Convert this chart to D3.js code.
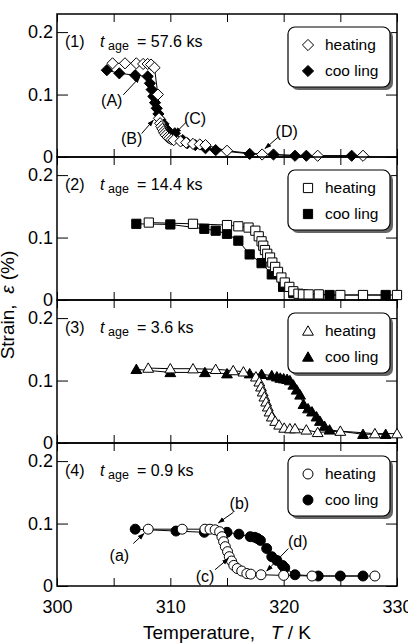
<!DOCTYPE html>
<html><head><meta charset="utf-8">
<script src="https://cdn.jsdelivr.net/npm/d3@7"></script>
<style>
html,body{margin:0;padding:0;background:#fff;}
svg{display:block;font-family:"Liberation Sans",Arial,Helvetica,sans-serif;}
</style></head><body>
<svg id="chart" width="408" height="644"></svg>
<script>
// ---------------- data ----------------
const panelLabels = ["(1)", "(2)", "(3)", "(4)"];
const ageLabels = ["= 57.6 ks", "= 14.4 ks", "= 3.6 ks", "= 0.9 ks"];
const markerShapes = ["diamond", "square", "triangle", "circle"];
const seriesNames = ["heating", "coo ling"];
const xTickValues = [300, 305, 310, 315, 320, 325, 330];
const xTickLabels = ["300", "", "310", "", "320", "", "330"];
const yTickValues = [0, 0.1, 0.2];
const yTickLabels = ["0", "0.1", "0.2"];

// [T (K), strain (%)]
const heating1 = [[304.9,0.150],[306.0,0.150],[307.0,0.150],[307.6,0.149],[308.0,0.149],[308.3,0.148],[308.6,0.143],[308.9,0.100],[309.0,0.062],[309.1,0.054],[309.2,0.049],[309.3,0.045],[309.4,0.041],[309.5,0.038],[309.6,0.035],[309.75,0.032],[309.9,0.030],[310.1,0.028],[310.3,0.027],[310.9,0.025],[311.4,0.023],[312.0,0.021],[312.6,0.020],[313.1,0.019],[315.0,0.010],[318.1,0.004],[323.0,0.002],[327.0,0.002]];
const cooling1 = [[304.4,0.139],[305.5,0.134],[306.9,0.131],[308.0,0.129],[308.2,0.118],[308.35,0.108],[308.5,0.097],[308.65,0.087],[308.8,0.078],[308.95,0.069],[309.1,0.060],[309.4,0.053],[309.7,0.044],[310.4,0.038],[311.1,0.027],[311.5,0.022],[312.2,0.019],[313.1,0.014],[314.0,0.011],[317.0,0.005],[319.1,0.004],[321.0,0.002],[322.0,0.002],[326.0,0.002]];
const heating2 = [[308.1,0.124],[312.0,0.122],[315.0,0.120],[316.0,0.118],[316.9,0.116],[317.5,0.111],[317.8,0.102],[318.05,0.094],[318.2,0.087],[318.35,0.080],[318.55,0.074],[318.8,0.068],[319.0,0.060],[319.25,0.053],[319.5,0.045],[319.8,0.036],[320.1,0.028],[320.5,0.021],[320.85,0.014],[321.3,0.010],[321.7,0.009],[322.2,0.009],[323.1,0.009],[325.0,0.008],[327.0,0.008],[330.0,0.008]];
const cooling2 = [[307.0,0.122],[310.0,0.121],[313.0,0.114],[314.0,0.111],[315.0,0.106],[316.0,0.095],[317.0,0.073],[318.05,0.059],[318.95,0.041],[319.95,0.021],[320.85,0.011],[324.05,0.008],[329.0,0.008]];
const heating3 = [[308.05,0.120],[310.0,0.119],[312.0,0.119],[314.0,0.118],[315.55,0.116],[316.45,0.114],[317.55,0.106],[317.85,0.098],[318.0,0.090],[318.15,0.082],[318.3,0.074],[318.45,0.066],[318.6,0.058],[318.75,0.050],[318.95,0.042],[319.25,0.035],[319.6,0.029],[320.05,0.024],[320.55,0.023],[321.0,0.023],[322.0,0.021],[323.0,0.017],[325.0,0.019],[328.05,0.015],[330.0,0.015]];
const cooling3 = [[307.0,0.118],[310.0,0.113],[313.05,0.113],[315.0,0.111],[317.0,0.111],[318.05,0.110],[318.95,0.108],[319.4,0.106],[319.7,0.104],[320.0,0.103],[320.3,0.102],[320.55,0.100],[320.85,0.093],[321.15,0.085],[321.45,0.077],[321.75,0.062],[322.15,0.055],[322.5,0.050],[322.9,0.042],[323.2,0.035],[323.6,0.027],[324.05,0.021],[327.0,0.014],[329.0,0.014]];
const heating4 = [[308.05,0.091],[311.05,0.091],[313.05,0.091],[313.5,0.091],[313.95,0.090],[314.35,0.087],[314.55,0.079],[314.7,0.071],[314.85,0.063],[315.05,0.055],[315.2,0.047],[315.4,0.040],[315.6,0.033],[315.9,0.028],[316.3,0.024],[316.75,0.020],[317.1,0.019],[318.0,0.018],[320.0,0.017],[322.5,0.016],[328.05,0.016]];
const cooling4 = [[306.9,0.091],[310.5,0.088],[313.0,0.086],[315.0,0.086],[316.05,0.083],[317.05,0.079],[317.45,0.078],[317.7,0.076],[317.95,0.073],[318.5,0.060],[318.95,0.047],[319.4,0.041],[319.9,0.033],[320.1,0.029],[321.0,0.018],[323.05,0.016],[325.0,0.016],[327.0,0.016]];

// annotation label position, arrow tail, arrow tip (data units)
const annotations1 = [
  {label:"(A)", text:[304.83,0.090], tail:[305.85,0.0995], tip:[307.32,0.128]},
  {label:"(B)", text:[306.59,0.0295], tail:[307.47,0.0376], tip:[308.5,0.059]},
  {label:"(C)", text:[312.18,0.0618], tail:[311.44,0.0565], tip:[310.41,0.0376]},
  {label:"(D)", text:[320.27,0.0403], tail:[319.53,0.032], tip:[318.35,0.0134]}
];
const annotations4 = [
  {label:"(a)", text:[305.5,0.049], tail:[306.73,0.068], tip:[307.68,0.084]},
  {label:"(b)", text:[316.09,0.132], tail:[315.56,0.118], tip:[314.24,0.101]},
  {label:"(c)", text:[313.06,0.016], tail:[313.94,0.026], tip:[315.12,0.044]},
  {label:"(d)", text:[321.24,0.071], tail:[320.41,0.060], tip:[318.5,0.024]}
];

const heatingSets = [heating1, heating2, heating3, heating4];
const coolingSets = [cooling1, cooling2, cooling3, cooling4];
const annotationSets = [annotations1, [], [], annotations4];

// ---------------- layout ----------------
const plotLeft = 57, plotRight = 397, firstTop = 14, panelH = 143;
const svg = d3.select("#chart");
const x = d3.scaleLinear().domain([300, 330]).range([plotLeft, plotRight]);

svg.append("defs").append("marker")
  .attr("id", "arrow").attr("viewBox", "0 0 10 10").attr("refX", 9).attr("refY", 5)
  .attr("markerWidth", 7).attr("markerHeight", 7).attr("markerUnits", "userSpaceOnUse")
  .attr("orient", "auto")
  .append("path").attr("d", "M0,1.5 L10,5 L0,8.5 Z").attr("fill", "#000");

function shapePath(shape) {
  if (shape === "diamond") { const r = 5.6; return `M0,${-r}L${r},0L0,${r}L${-r},0Z`; }
  if (shape === "square") { const h = 4.6; return `M${-h},${-h}H${h}V${h}H${-h}Z`; }
  if (shape === "triangle") { const w = 5.4; return `M0,-5.2L${w},4.2L${-w},4.2Z`; }
  return d3.symbol(d3.symbolCircle, 78)();
}

function drawMarkers(g, data, shape, fill, xs, ys) {
  g.selectAll(null).data(data).enter().append("path")
    .attr("d", shapePath(shape))
    .attr("transform", d => `translate(${xs(d[0])},${ys(d[1])})`)
    .attr("fill", fill).attr("stroke", "#000").attr("stroke-width", 1);
}

for (let i = 0; i < 4; i++) {
  const top = firstTop + i * panelH;
  const bottom = top + panelH;
  const y = d3.scaleLinear().domain([0, 0.229]).range([bottom, top]);
  const g = svg.append("g");

  // axes (inward ticks)
  const bAxis = g.append("g").attr("transform", `translate(0,${bottom})`)
    .call(d3.axisBottom(x).tickValues(xTickValues).tickSize(-8).tickPadding(14)
      .tickFormat((d, k) => i === 3 ? xTickLabels[k] : ""));
  const tAxis = g.append("g").attr("transform", `translate(0,${top})`)
    .call(d3.axisTop(x).tickValues(xTickValues).tickSize(-8).tickFormat(() => ""));
  const lAxis = g.append("g").attr("transform", `translate(${plotLeft},0)`)
    .call(d3.axisLeft(y).tickValues(yTickValues).tickSize(-11).tickPadding(4)
      .tickFormat((d, k) => yTickLabels[k]));
  const rAxis = g.append("g").attr("transform", `translate(${plotRight},0)`)
    .call(d3.axisRight(y).tickValues(yTickValues).tickSize(-11).tickFormat(() => ""));
  [bAxis, tAxis, lAxis, rAxis].forEach(a => {
    a.select(".domain").remove();
    a.selectAll("line").attr("stroke", "#000").attr("stroke-width", 1);
    a.selectAll("text").attr("font-size", 18).attr("fill", "#000")
      .attr("font-family", "'Liberation Sans', Arial, sans-serif");
  });

  // frame
  g.append("rect").attr("x", plotLeft).attr("y", top)
    .attr("width", plotRight - plotLeft).attr("height", panelH)
    .attr("fill", "none").attr("stroke", "#000").attr("stroke-width", 1.5);

  // legend
  const lg = g.append("g").attr("transform", `translate(288,${top + 13})`);
  lg.append("rect").attr("x", 3).attr("y", 3).attr("width", 102).attr("height", 60)
    .attr("rx", 7).attr("fill", "#666");
  lg.append("rect").attr("width", 102).attr("height", 60).attr("rx", 7)
    .attr("fill", "#fff").attr("stroke", "#000").attr("stroke-width", 1.2);
  seriesNames.forEach((name, k) => {
    const yy = k === 0 ? 18 : 44;
    lg.append("path").attr("d", shapePath(markerShapes[i]))
      .attr("transform", `translate(20,${yy})`)
      .attr("fill", k === 0 ? "#fff" : "#000").attr("stroke", "#000").attr("stroke-width", 1);
    lg.append("text").attr("x", 37).attr("y", yy).attr("dy", "0.35em")
      .attr("font-size", 15.5).text(name);
  });

  // panel label
  g.append("text").attr("x", 65).attr("y", top + 33).attr("font-size", 16).text(panelLabels[i]);
  g.append("text").attr("x", 100).attr("y", top + 33).attr("font-size", 16)
    .attr("font-style", "italic").text("t");
  g.append("text").attr("x", 108).attr("y", top + 36).attr("font-size", 12.5).text("age");
  g.append("text").attr("x", 137).attr("y", top + 33).attr("font-size", 16).text(ageLabels[i]);

  // series
  const line = d3.line().x(d => x(d[0])).y(d => y(d[1]));
  g.append("path").datum(coolingSets[i]).attr("d", line)
    .attr("fill", "none").attr("stroke", "#000").attr("stroke-width", 1);
  g.append("path").datum(heatingSets[i]).attr("d", line)
    .attr("fill", "none").attr("stroke", "#000").attr("stroke-width", 1);
  drawMarkers(g, coolingSets[i], markerShapes[i], "#000", x, y);
  drawMarkers(g, heatingSets[i], markerShapes[i], "#fff", x, y);

  // annotations
  annotationSets[i].forEach(a => {
    g.append("line").attr("x1", x(a.tail[0])).attr("y1", y(a.tail[1]))
      .attr("x2", x(a.tip[0])).attr("y2", y(a.tip[1]))
      .attr("stroke", "#000").attr("stroke-width", 1).attr("marker-end", "url(#arrow)");
    g.append("text").attr("x", x(a.text[0])).attr("y", y(a.text[1])).attr("dy", "0.35em")
      .attr("text-anchor", "middle").attr("font-size", 16).text(a.label);
  });
}

// axis titles
const xt = svg.append("text").attr("x", (plotLeft + plotRight) / 2).attr("y", 639)
  .attr("text-anchor", "middle").attr("font-size", 19).attr("xml:space", "preserve");
xt.append("tspan").text("Temperature,   ");
xt.append("tspan").attr("font-style", "italic").text("T");
xt.append("tspan").text(" / K");

const yt = svg.append("text").attr("transform", "translate(13.5,305) rotate(-90)")
  .attr("text-anchor", "middle").attr("font-size", 19).attr("xml:space", "preserve");
yt.append("tspan").text("Strain,  ");
yt.append("tspan").attr("font-style", "italic").text("ε");
yt.append("tspan").text(" (%)");
</script>
</body></html>
